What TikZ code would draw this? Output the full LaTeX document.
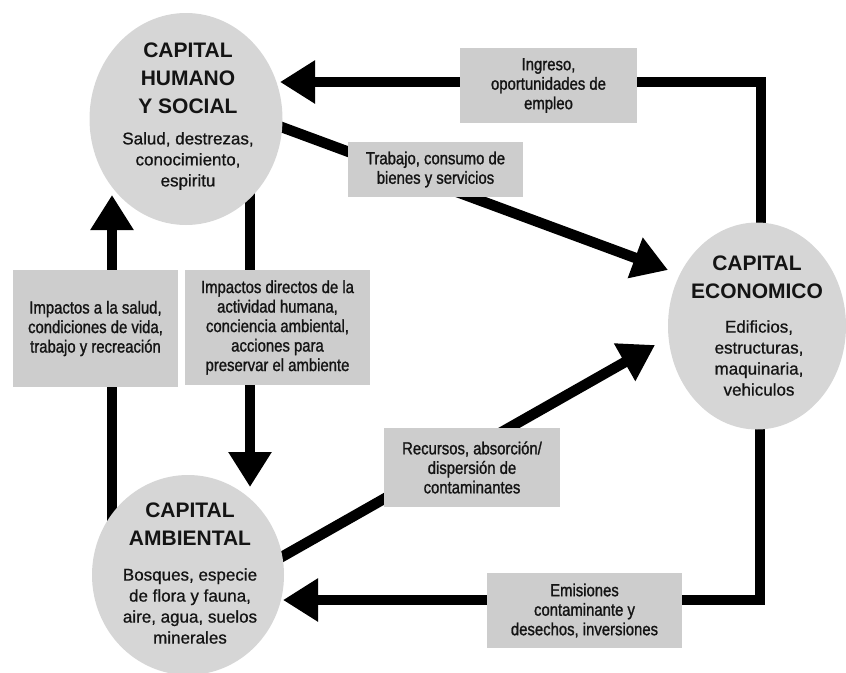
\documentclass[tikz,border=0pt]{standalone}
\usepackage{fontspec}
\setmainfont{Liberation Sans}
\newfontfamily\lblfont{Liberation Sans}[FakeStretch=0.85,FakeBold=1.2]
\newfontfamily\bodyfont{Liberation Sans}[FakeBold=0.8]
\usetikzlibrary{arrows.meta,shapes.geometric}
\pgfdeclarelayer{bg}
\pgfsetlayers{bg,main}
\definecolor{circfill}{HTML}{D6D6D6}
\definecolor{boxfill}{HTML}{CDCDCD}
\definecolor{ink}{HTML}{141414}
\begin{document}
\begin{tikzpicture}[x=1pt,y=-1pt,
  capital/.style={ellipse, fill=circfill, inner sep=0pt},
  ttl/.style={font=\fontsize{21}{28}\selectfont\bfseries, align=center, text=ink, inner sep=0pt},
  body/.style={font=\bodyfont\fontsize{17}{21}\selectfont, align=center, text=ink, inner sep=0pt},
  lbl/.style={fill=boxfill, font=\lblfont\fontsize{17.5}{19.5}\selectfont, align=center, text=ink, inner sep=0pt},
  flow/.style={line width=10.5pt, draw=black, line join=miter},
  arr/.style={flow, -{Triangle[length=35pt,width=41pt]}}]
\useasboundingbox (0,0) rectangle (846,672);

% capitals
\node[capital, minimum width=193pt, minimum height=212pt] (h) at (186,119) {};
\node[capital, minimum width=178pt, minimum height=207pt] (e) at (757,326) {};
\node[capital, minimum width=192pt, minimum height=200pt] (a) at (188,575) {};

\node[ttl] (ht) at (188,78) {CAPITAL\\HUMANO\\Y SOCIAL};
\node[body] (hb) at (188,161) {Salud, destrezas,\\conocimiento,\\espiritu};
\node[ttl] (et) at (757,277) {CAPITAL\\ECONOMICO};
\node[body] (eb) at (759,358) {Edificios,\\estructuras,\\maquinaria,\\vehiculos};
\node[ttl] (at) at (190,524) {CAPITAL\\AMBIENTAL};
\node[body] (ab) at (190,606) {Bosques, especie\\de flora y fauna,\\aire, agua, suelos\\minerales};

% labels
\node[lbl, minimum width=177pt, minimum height=75pt] (b1) at (548.5,85.5) {Ingreso,\\oportunidades de\\empleo};
\node[lbl, minimum width=175pt, minimum height=55pt] (b2) at (435.5,169.5) {Trabajo, consumo de\\bienes y servicios};
\node[lbl, minimum width=165pt, minimum height=117pt] (b3) at (95.5,328.5) {Impactos a la salud,\\condiciones de vida,\\trabajo y recreación};
\node[lbl, minimum width=185pt, minimum height=115pt] (b4) at (277.5,327.5) {Impactos directos de la\\actividad humana,\\conciencia ambiental,\\acciones para\\preservar el ambiente};
\node[lbl, minimum width=176pt, minimum height=79pt] (b5) at (472,467.5) {Recursos, absorción/\\dispersión de\\contaminantes};
\node[lbl, minimum width=195pt, minimum height=75pt] (b6) at (584.5,610.5) {Emisiones\\contaminante y\\desechos, inversiones};

% connector points
\coordinate (c1) at (761,82);
\coordinate (tipA) at (280,82);
\coordinate (s2) at (230,108);
\coordinate (tipB) at (668,270);
\coordinate (s3) at (250,150);
\coordinate (tipC) at (250,487);
\coordinate (s4) at (112,545);
\coordinate (tipD) at (112,195);
\coordinate (s5) at (240,580.6);
\coordinate (tipE) at (655,345);
\coordinate (c6) at (760,600);
\coordinate (tipF) at (283,600);

\begin{pgfonlayer}{bg}
\draw[arr] (e.center -| c1) -- (c1) -- (tipA);
\draw[arr] (s2) -- (tipB);
\draw[arr] (s3) -- (tipC);
\draw[arr] (s4) -- (tipD);
\draw[arr] (s5) -- (tipE);
\draw[arr] (e.center -| c6) -- (c6) -- (tipF);
\end{pgfonlayer}
\end{tikzpicture}
\end{document}
